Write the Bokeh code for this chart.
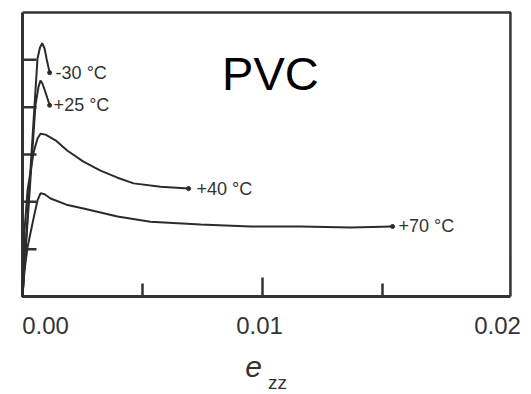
from bokeh.plotting import figure
from bokeh.models import Range1d, Label
from bokeh.embed import file_html
from bokeh.resources import INLINE

# ---- data (strain e_zz, stress in arbitrary units) ----
x_m30 = [0.0, 0.000625, 0.00073, 0.00082, 0.00092, 0.00100, 0.00113]
y_m30 = [0.0, 5.03, 5.26, 5.35, 5.24, 5.03, 4.73]

x_p25 = [0.0, 0.00054, 0.00067, 0.00075, 0.00083, 0.00096, 0.00113]
y_p25 = [0.0, 4.04, 4.44, 4.56, 4.50, 4.31, 4.04]

x_p40 = [0.0, 0.000083, 0.00021, 0.00046, 0.000625, 0.00075, 0.00096, 0.001375,
         0.001875, 0.00254, 0.00325, 0.00396, 0.00463, 0.00575, 0.00692]
y_p40 = [0.0, 1.39, 2.24, 3.04, 3.34, 3.44, 3.42, 3.30,
         3.08, 2.85, 2.66, 2.51, 2.39, 2.32, 2.28]

x_p70 = [0.0, 0.000083, 0.00021, 0.00046, 0.000625, 0.00075, 0.00092, 0.00117,
         0.00183, 0.00254, 0.00396, 0.00533, 0.00742, 0.0095, 0.01158, 0.01367, 0.01542]
y_p70 = [0.0, 0.55, 1.04, 1.65, 2.03, 2.18, 2.16, 2.07,
         1.94, 1.86, 1.69, 1.58, 1.52, 1.48, 1.48, 1.46, 1.48]

series_labels = ["-30 °C", "+25 °C", "+40 °C", "+70 °C"]

x_tick_values = [0.0, 0.01, 0.02]
x_tick_labels = ["0.00", "0.01", "0.02"]
x_major_ticks = [0.01]
x_minor_ticks = [0.005, 0.015]
y_tick_values = [1, 2, 3, 4, 5]

X_BOX = 0.02033      # right edge of the drawn box
X_START = -0.0000833 # a little room left of the box edge
X_VIEW = 0.021208    # visible range (room for the 0.02 label)
Y_BOX = 6.0          # top edge of the drawn box
Y_VIEW = 6.0427
Y_MIN = -2.0706      # room under the axis for tick labels and the axis title

# tick lengths converted to data units (px / scale)
PX_PER_X = 24000.0
PX_PER_Y = 47.33
TICK_Y = 14 / PX_PER_X
TICK_X_MAJOR = 19 / PX_PER_Y
TICK_X_MINOR = 13 / PX_PER_Y

# ---- styles ----
INK = "#2b2b2b"
AX = "#333333"
FONT = "Liberation Sans"
label_x_offsets = [23, -3, -5]

p = figure(width=531, height=394, output_backend="svg", toolbar_location=None,
           x_range=Range1d(X_START, X_VIEW), y_range=Range1d(Y_MIN, Y_VIEW),
           x_axis_type=None, y_axis_type=None,
           min_border_left=20, min_border_top=10, min_border_right=0, min_border_bottom=0)
p.grid.visible = False
p.outline_line_color = None

# box: left/bottom heavier, top/right lighter
p.line([0, 0, X_BOX], [Y_BOX, 0, 0], line_color=AX, line_width=3)
p.line([0, X_BOX, X_BOX], [Y_BOX, Y_BOX, 0], line_color=AX, line_width=2.5)

# inward ticks
p.segment(x0=[0] * len(y_tick_values), y0=y_tick_values,
          x1=[TICK_Y] * len(y_tick_values), y1=y_tick_values,
          line_color=AX, line_width=2.5)
p.segment(x0=x_major_ticks, y0=[0] * len(x_major_ticks),
          x1=x_major_ticks, y1=[TICK_X_MAJOR] * len(x_major_ticks),
          line_color=AX, line_width=2.5)
p.segment(x0=x_minor_ticks, y0=[0] * len(x_minor_ticks),
          x1=x_minor_ticks, y1=[TICK_X_MINOR] * len(x_minor_ticks),
          line_color=AX, line_width=2.5)

curves = [(x_m30, y_m30), (x_p25, y_p25), (x_p40, y_p40), (x_p70, y_p70)]
label_offsets = [6, 4, 8, 6]
for (xs, ys), lab, off in zip(curves, series_labels, label_offsets):
    p.line(xs, ys, line_color=INK, line_width=2)
    p.scatter([xs[-1]], [ys[-1]], size=4, color=INK)
    p.add_layout(Label(x=xs[-1], y=ys[-1], text=lab, x_offset=off,
                       text_baseline="middle", text_align="left",
                       text_font=FONT, text_font_size="18px", text_color=AX))

for v, t, off in zip(x_tick_values, x_tick_labels, label_x_offsets):
    p.add_layout(Label(x=v, y=0, text=t, x_offset=off, y_offset=-29,
                       text_align="center", text_baseline="middle",
                       text_font=FONT, text_font_size="24px", text_color=AX))

# axis title e_zz
p.add_layout(Label(x=0.01, y=0, text="e", x_offset=-9, y_offset=-71,
                   text_align="center", text_baseline="middle",
                   text_font=FONT, text_font_style="italic",
                   text_font_size="30px", text_color=AX))
p.add_layout(Label(x=0.01, y=0, text="zz", x_offset=15, y_offset=-86,
                   text_align="center", text_baseline="middle",
                   text_font=FONT, text_font_size="19px", text_color=AX))

# title PVC inside the plot
p.add_layout(Label(x=0.01033, y=4.72, text="PVC", text_align="center",
                   text_baseline="middle", text_font=FONT,
                   text_font_size="47px", text_color="black"))

open("out.html", "w").write(file_html(p, INLINE))
